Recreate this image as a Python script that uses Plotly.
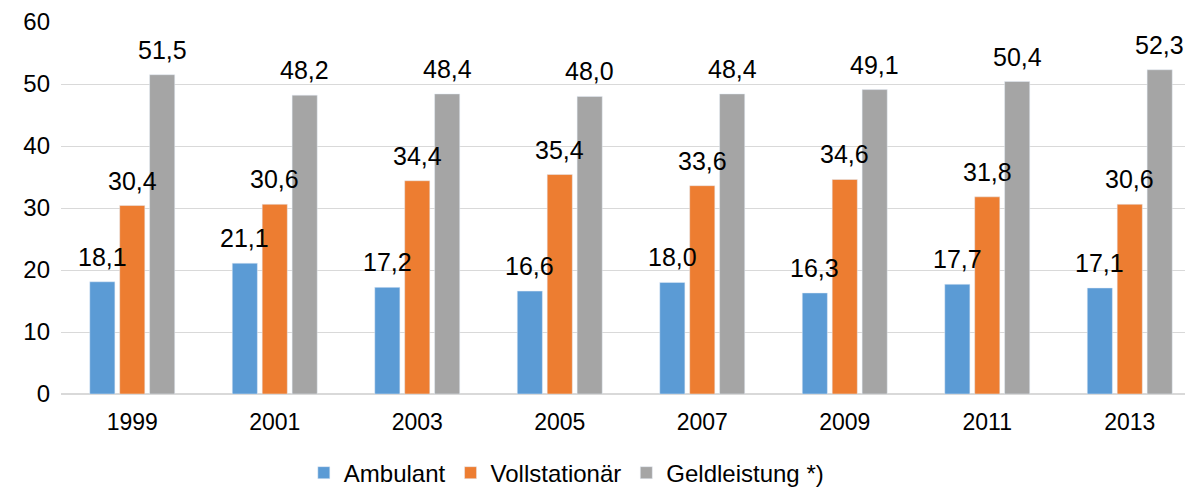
import plotly.graph_objects as go

jahre = ["1999", "2001", "2003", "2005", "2007", "2009", "2011", "2013"]
ambulant = [18.1, 21.1, 17.2, 16.6, 18.0, 16.3, 17.7, 17.1]
vollstationaer = [30.4, 30.6, 34.4, 35.4, 33.6, 34.6, 31.8, 30.6]
geldleistung = [51.5, 48.2, 48.4, 48.0, 48.4, 49.1, 50.4, 52.3]

serien = [
    ("Ambulant", ambulant, "#5b9bd5"),
    ("Vollstationär", vollstationaer, "#ed7d31"),
    ("Geldleistung *)", geldleistung, "#a5a5a5"),
]

# plot area geometry (px) to place the value labels above each bar
plot_l, plot_r = 53, 0
bargap = 0.37
kat_breite = (1193 - plot_l - plot_r) / len(jahre)
slot = kat_breite * (1 - bargap) / len(serien)

fig = go.Figure()
annots = []
for i, (name, werte, farbe) in enumerate(serien):
    fig.add_trace(go.Bar(x=jahre, y=werte, name=name, marker_color=farbe))
    for j, wert in enumerate(werte):
        # on a category axis the annotation x is the category index
        annots.append(dict(
            x=j, y=wert, xref="x", yref="y",
            text=f"{wert:.1f}".replace(".", ","),
            showarrow=False, xanchor="center", yanchor="bottom",
            xshift=(i - 1) * slot, yshift=9,
            font=dict(size=25, color="#000000"),
        ))

fig.update_layout(
    width=1193, height=488,
    barmode="group", bargap=bargap, bargroupgap=0.16,
    plot_bgcolor="white", paper_bgcolor="white",
    font=dict(family="Liberation Sans, Arial", color="#000000"),
    margin=dict(l=plot_l, r=plot_r, t=14, b=102, autoexpand=False),
    xaxis=dict(type="category", range=[-0.5, len(jahre) - 0.5], showgrid=False,
               showline=False, ticks="", tickfont=dict(size=23),
               ticklabelstandoff=12, automargin=False),
    yaxis=dict(range=[0, 60], dtick=10, showgrid=True, gridcolor="#d9d9d9",
               gridwidth=1, zeroline=True, zerolinecolor="#d9d9d9",
               tickfont=dict(size=24), ticks="", ticklabelstandoff=10,
               automargin=False),
    legend=dict(orientation="h", x=0.468, xref="container", xanchor="center",
                y=0.047, yanchor="middle", yref="container",
                font=dict(size=24), itemwidth=30),
    annotations=annots,
)

fig.write_html("out.html")
